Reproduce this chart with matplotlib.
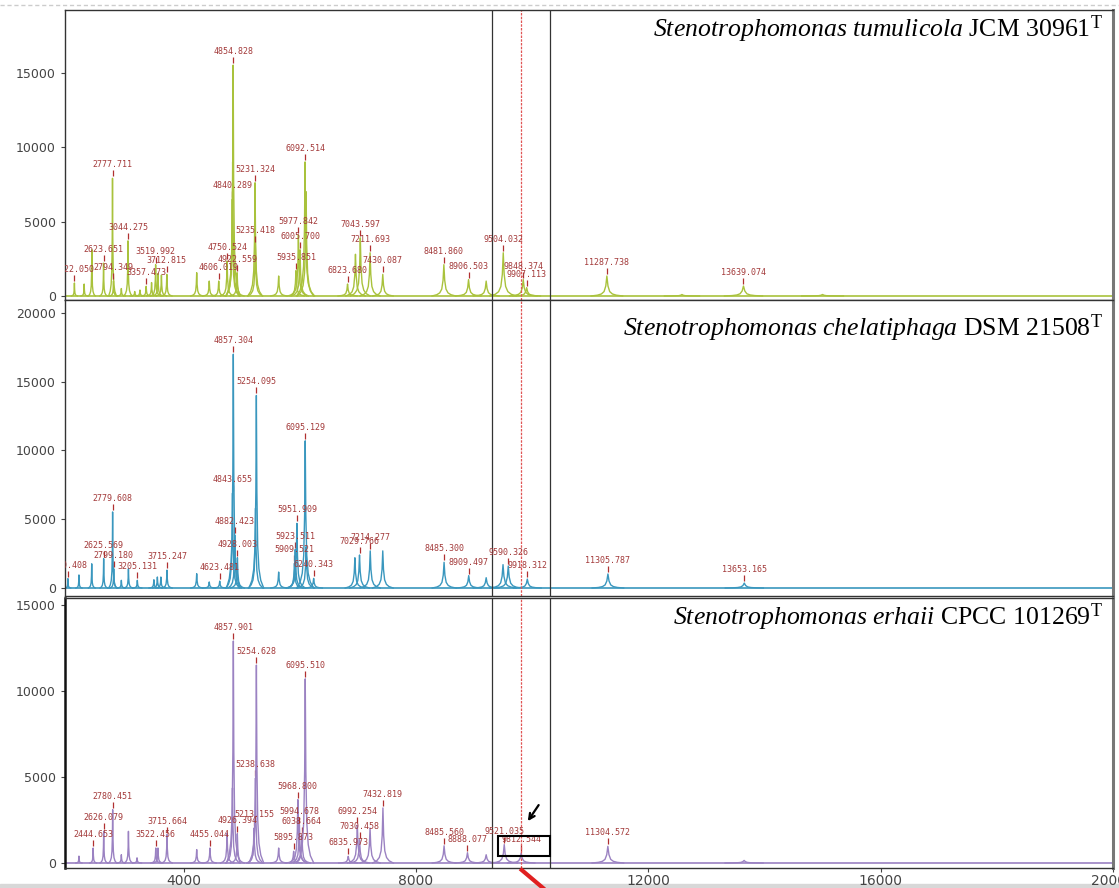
import matplotlib
matplotlib.use("Agg")
import matplotlib.pyplot as plt
from matplotlib.lines import Line2D
from matplotlib.patches import Rectangle

plt.rcParams['mathtext.fontset'] = 'custom'
plt.rcParams['mathtext.rm'] = 'Liberation Serif'
plt.rcParams['mathtext.it'] = 'Liberation Serif:italic'


# peaks: (m/z, intensity, labelled?)
###########################################
top_peaks = [(2122.050, 870, True), (2290, 800, False), (2422, 3100, False),
             (2623.651, 2200, True), (2777.711, 7900, True), (2794.349, 1000, True),
             (2930, 500, False), (3044.275, 3700, True), (3160, 300, False),
             (3250, 400, False), (3357.473, 650, True), (3450, 900, False),
             (3519.992, 2100, True), (3560, 1500, False), (3620, 1400, False),
             (3712.815, 1450, True), (4227, 1560, False), (4443, 1000, False),
             (4606.019, 1000, True), (4750.524, 2350, True), (4840.289, 6500, True),
             (4846, 9000, False), (4854.828, 15500, True), (4922.559, 1560, True),
             (5231.324, 7600, True), (5235.418, 3500, True), (5638, 1340, False),
             (5935.851, 1700, True), (5977.842, 4100, True), (6005.700, 3100, True),
             (6092.514, 9000, True), (6110, 7000, False), (6823.680, 800, True),
             (6960, 2800, False), (7043.597, 3900, True), (7211.693, 2900, True),
             (7430.087, 1450, True), (8481.860, 2100, True), (8906.503, 1100, True),
             (9210, 1000, False), (9504.032, 2900, True), (9848.374, 1100, True),
             (9907.113, 560, True), (11287.738, 1340, True), (12580, 100, False),
             (13639.074, 670, True), (15000, 100, False)]

mid_peaks = [(2010.408, 680, True), (2200, 950, False), (2420, 1760, False),
             (2625.569, 2130, True), (2779.608, 5530, True), (2799.180, 1400, True),
             (2930, 560, False), (3052, 1400, False), (3205.131, 560, True),
             (3490, 600, False), (3550, 800, False), (3610, 800, False),
             (3715.247, 1300, True), (4227, 1040, False), (4443, 440, False),
             (4623.481, 500, True), (4843.655, 6900, True), (4857.304, 17000, True),
             (4882.423, 3850, True), (4928.003, 2200, True), (5240, 5800, False),
             (5254.095, 14000, True), (5638, 1160, False), (5909.521, 1800, True),
             (5923.511, 2800, True), (5951.909, 4700, True), (6095.129, 10700, True),
             (6110, 3000, False), (6240.343, 700, True), (6950, 2200, False),
             (7029.766, 2400, True), (7214.277, 2700, True), (7430, 2700, False),
             (8485.300, 1870, True), (8909.497, 900, True), (9210, 750, False),
             (9500, 1700, False), (9590.326, 1600, True), (9918.312, 650, True),
             (11305.787, 1020, True), (13653.165, 360, True)]

bot_peaks = [(2200, 400, False), (2444.653, 870, True), (2626.079, 1840, True),
             (2780.451, 3100, True), (2930, 480, False), (3052, 1840, False),
             (3200, 300, False), (3522.456, 870, True), (3560, 870, False),
             (3715.664, 1650, True), (4227, 780, False), (4455.044, 870, True),
             (4750, 1740, False), (4843, 4360, False), (4857.901, 12900, True),
             (4926.394, 1700, True), (5213.155, 2030, True), (5238.638, 4940, True),
             (5254.628, 11500, True), (5638, 870, False), (5895.873, 680, True),
             (5968.800, 3680, True), (5994.678, 2230, True), (6038.664, 1600, True),
             (6095.510, 10700, True), (6835.973, 390, True), (6992.254, 2200, True),
             (7030.458, 1350, True), (7211, 2030, False), (7432.819, 3200, True),
             (8485.560, 1000, True), (8888.077, 600, True), (9210, 480, False),
             (9521.035, 1070, True), (9812.544, 580, True), (11304.572, 970, True),
             (13650, 150, False)]

species = ["Stenotrophomonas\\ tumulicola", "Stenotrophomonas\\ chelatiphaga",
           "Stenotrophomonas\\ erhaii"]
strains = ["JCM 30961", "DSM 21508", "CPCC 101269"]

xticks = [4000, 8000, 12000, 16000, 20000]
marker_lines = [9316, 10305]
red_line = 9810


#figure
###########################################
W, H = 1119, 888
fig = plt.figure(figsize=(W / 100, H / 100), dpi=100)

def axes_rect(top, bottom):
    return [65 / W, 1 - bottom / H, (1113 - 65) / W, (bottom - top) / H]

panels = [
    dict(peaks=top_peaks, color="#a9c23c", ylim=(-270, 19200),
         yticks=[0, 5000, 10000, 15000], box=(10, 300), ty=0.935),
    dict(peaks=mid_peaks, color="#3a97be", ylim=(-580, 20940),
         yticks=[0, 5000, 10000, 15000, 20000], box=(300, 596), ty=0.905),
    dict(peaks=bot_peaks, color="#9b82c2", ylim=(-290, 15400),
         yticks=[0, 5000, 10000, 15000], box=(598, 868), ty=0.93),
]

# peak glyph shape (sharp top, wide skirt)
offs = [-1, -0.6, -0.35, -0.18, -0.07, 0, 0.07, 0.18, 0.35, 0.6, 1]
rels = [0, 0.04, 0.1, 0.22, 0.5, 1, 0.5, 0.22, 0.1, 0.04, 0]

axes = []
for i, p in enumerate(panels):
    ax = fig.add_axes(axes_rect(*p["box"]))
    axes.append(ax)
    ax.set_xlim(1960, 20000)
    ax.set_ylim(*p["ylim"])
    dpp = (p["ylim"][1] - p["ylim"][0]) / ax.bbox.height

    ax.axhline(0, color=p["color"], lw=1.2)
    for mz, h, lab in p["peaks"]:
        w = 0.024 * mz
        ax.plot([mz + o * w for o in offs], [r * h for r in rels],
                color=p["color"], lw=1.0)
        if lab:
            ax.vlines(mz, h + 2 * dpp, h + 8 * dpp, color="#b03030", lw=0.9)
            ax.annotate("%.3f" % mz, xy=(mz, h), xytext=(0, 9),
                        textcoords="offset pixels", ha="center", va="bottom",
                        fontsize=6, color="#a33a3a", family="DejaVu Sans Mono",
                        annotation_clip=False, clip_on=True)

    for xv in marker_lines:
        ax.axvline(xv, color="#333333", lw=0.9)
    ax.axvline(red_line, color="#e05555", lw=0.9, ls=(0, (2, 1)))

    ax.set_yticks(p["yticks"])
    ax.tick_params(axis="y", direction="out", length=3, labelsize=9,
                   labelcolor="#444444", color="#444444")
    if i < 2:
        ax.set_xticks([])
    else:
        ax.set_xticks(xticks)
        ax.set_xticklabels([str(t) for t in xticks])
        ax.tick_params(axis="x", direction="out", length=3, labelsize=10,
                       labelcolor="#444444", color="#444444", pad=1)
    for s in ax.spines.values():
        s.set_color("#333333")
        s.set_linewidth(1.0)
    ax.spines["right"].set_color("#777777")
    ax.spines["right"].set_linewidth(2.2)

    ax.text(0.99, p["ty"],
            r"$\it{" + species[i] + r"}$ " + strains[i] + r"$^{\rm T}$",
            transform=ax.transAxes, ha="right", va="center",
            fontsize=18.5, family="Liberation Serif")

axes[2].spines["left"].set_linewidth(1.8)
axes[2].spines["left"].set_color("#111111")

# box and arrow on the last spectrum
axes[2].add_patch(Rectangle((9410, 400), 893, 1170, fill=False,
                            edgecolor="black", lw=1.5, zorder=5))
axes[2].annotate("", xy=(9900, 2300), xytext=(10140, 3500),
                 arrowprops=dict(arrowstyle="->", color="black", lw=1.6))

# red pointer below the axis
fig.add_artist(Line2D([521.7 / W, 543 / W], [1 - 870 / H, 0],
                      transform=fig.transFigure, color="#e02020", lw=3))

# screen-capture edges
fig.add_artist(Line2D([0, 1], [1 - 5 / H, 1 - 5 / H], transform=fig.transFigure,
                      color="#cccccc", lw=1, ls=(0, (3, 2))))
fig.add_artist(Rectangle((0, 0), 1, 4 / H, transform=fig.transFigure,
                         color="#d8d8d8", zorder=-1))

fig.savefig("out.png", dpi=100)
